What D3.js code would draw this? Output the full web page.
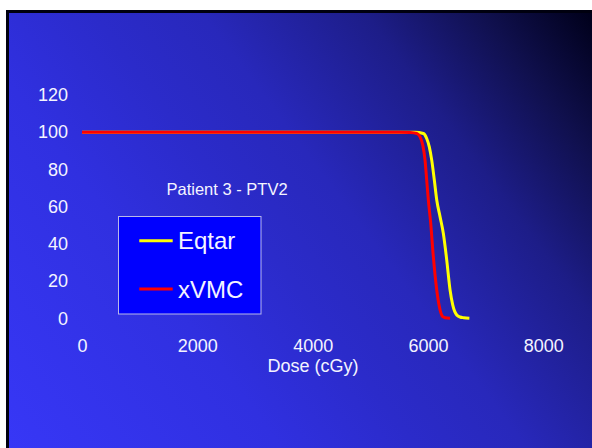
<!DOCTYPE html>
<html>
<head>
<meta charset="utf-8">
<script src="https://cdn.jsdelivr.net/npm/d3@7"></script>
<style>
  html, body { margin: 0; padding: 0; background: #ffffff; }
  svg { display: block; }
  text { font-family: "Liberation Sans", Arial, Helvetica, sans-serif; fill: #f4f4ff; }
</style>
</head>
<body>
<svg id="chart" width="592" height="448"></svg>
<script>
// Dose-volume histogram, Patient 3 - PTV2
const xTicks = [0, 2000, 4000, 6000, 8000];
const yTicks = [0, 20, 40, 60, 80, 100, 120];

const eqtarDose   = [0, 2000, 4000, 5500, 5776, 5920, 5978, 6023, 6065, 6110, 6152, 6210, 6266, 6325, 6383, 6430, 6499, 6557, 6620, 6718];
const eqtarVolume = [100, 100, 100, 100, 100, 99.3, 96.6, 92.1, 85, 74.3, 63.6, 54.5, 45.7, 31.4, 15.2, 7.1, 1.8, 0.7, 0.3, 0];

const xvmcDose    = [0, 2000, 4000, 5500, 5690, 5806, 5863, 5909, 5949, 5978, 6006, 6047, 6093, 6152, 6197, 6256, 6300, 6383];
const xvmcVolume  = [100, 100, 100, 100, 99.8, 99.3, 97.5, 93.2, 85, 74.3, 63.6, 51.3, 33.1, 15.2, 6.3, 0.9, 0.3, 0];

const seriesNames  = ["Eqtar", "xVMC"];
const seriesColors = ["#ffff00", "#ff0000"];

const svg = d3.select("#chart");

// slide background: bright blue lower-left fading to near-black upper-right
const defs = svg.append("defs");
const grad = defs.append("linearGradient")
  .attr("id", "bg").attr("gradientUnits", "userSpaceOnUse")
  .attr("x1", 9).attr("y1", 448).attr("x2", 592).attr("y2", 13);
[[0, "#3737f6"], [0.3, "#3030e0"], [0.45, "#2b2bca"], [0.57, "#2828bb"],
 [0.75, "#1d1d88"], [0.88, "#10104e"], [1, "#00001a"]]
  .forEach(([o, c]) => grad.append("stop").attr("offset", o).attr("stop-color", c));

svg.append("rect").attr("x", 6).attr("y", 10).attr("width", 586).attr("height", 438).attr("fill", "#00000f");
svg.append("rect").attr("x", 9).attr("y", 13).attr("width", 583).attr("height", 435).attr("fill", "url(#bg)");

const x = d3.scaleLinear().domain([0, 8000]).range([82, 543.3]);
const y = d3.scaleLinear().domain([0, 120]).range([318.3, 95]);

// axes: labels only, no lines or tick marks
const xAxis = svg.append("g")
  .attr("transform", `translate(0,${y(0)})`)
  .call(d3.axisBottom(x).tickValues(xTicks).tickSize(0).tickPadding(20.6).tickFormat(d3.format("d")));
const yAxis = svg.append("g")
  .attr("transform", `translate(${x(0)},0)`)
  .call(d3.axisLeft(y).tickValues(yTicks).tickSize(0).tickPadding(14).tickFormat(d3.format("d")));
[xAxis, yAxis].forEach(g => {
  g.select(".domain").remove();
  g.selectAll("text").attr("fill", "#f4f4ff").style("font-size", "18px")
    .style("font-family", '"Liberation Sans", Arial, sans-serif');
});

svg.append("text").attr("x", 313).attr("y", 371.5).attr("text-anchor", "middle")
  .style("font-size", "18px").text("Dose (cGy)");

svg.append("text").attr("x", 166.5).attr("y", 195).style("font-size", "16.5px")
  .text("Patient 3 - PTV2");

// curves
const line = d3.line().x(d => x(d[0])).y(d => y(d[1])).curve(d3.curveMonotoneX);
const series = [
  d3.zip(eqtarDose, eqtarVolume),
  d3.zip(xvmcDose, xvmcVolume)
];
series.forEach((pts, i) => {
  svg.append("path").datum(pts).attr("d", line)
    .attr("fill", "none").attr("stroke", seriesColors[i])
    .attr("stroke-width", 3).attr("stroke-linejoin", "round");
});

// legend
const legend = svg.append("g");
legend.append("rect").attr("x", 118.5).attr("y", 216.5).attr("width", 142.5).attr("height", 97.5)
  .attr("fill", "#0000ff").attr("stroke", "#b8b8e8").attr("stroke-width", 1);
const rowY = [240.7, 289];
seriesNames.forEach((name, i) => {
  legend.append("line").attr("x1", 139.3).attr("x2", 172.7).attr("y1", rowY[i]).attr("y2", rowY[i])
    .attr("stroke", seriesColors[i]).attr("stroke-width", 3);
  legend.append("text").attr("x", 178).attr("y", rowY[i] + 8.7).style("font-size", "24px").text(name);
});
</script>
</body>
</html>
